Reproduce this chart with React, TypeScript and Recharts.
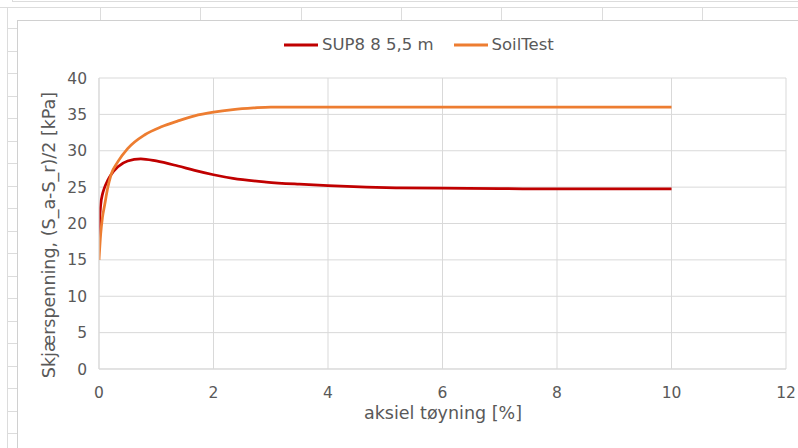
import React from 'react';
import { LineChart, Line, XAxis, YAxis, CartesianGrid, Legend, Label } from 'recharts';

// Strain [%] and half deviator stress [kPa] for each curve
const sup8Strain = [0, 0.01, 0.03, 0.06, 0.09, 0.15, 0.21, 0.33, 0.5, 0.73, 1.0, 1.38, 1.67, 2.0, 2.34, 2.92, 3.5, 4.0, 4.67, 5.25, 6, 7, 8, 9, 10];
const sup8Stress = [17.5, 20.2, 22.6, 24.0, 24.8, 25.9, 26.7, 27.8, 28.6, 28.9, 28.6, 27.9, 27.3, 26.7, 26.2, 25.7, 25.4, 25.2, 25.0, 24.9, 24.85, 24.8, 24.75, 24.75, 24.75];

const soilStrain = [0, 0.03, 0.06, 0.1, 0.15, 0.21, 0.33, 0.5, 0.8, 1.09, 1.38, 1.67, 2.0, 2.34, 2.7, 3.0, 10];
const soilStress = [15.0, 18.6, 20.8, 22.6, 24.8, 26.7, 28.5, 30.3, 32.2, 33.3, 34.1, 34.8, 35.3, 35.65, 35.88, 36.0, 36.0];

const xTicks = [0, 2, 4, 6, 8, 10, 12];
const yTicks = [0, 5, 10, 15, 20, 25, 30, 35, 40];

const seriesNames = ['SUP8 8 5,5 m', 'SoilTest'];
const seriesColors = ['#C00000', '#ED7D31'];

const sup8Data = sup8Strain.map((x, i) => ({ x, y: sup8Stress[i] }));
const soilData = soilStrain.map((x, i) => ({ x, y: soilStress[i] }));

const FONT = '"DejaVu Sans", Verdana, sans-serif';
const TEXT = '#595959';
const GRID = '#d9d9d9';

// Worksheet cell lines around the embedded chart
const SheetBackdrop = () => {
  const line = (s: React.CSSProperties, k: string) => (
    <div key={k} style={{ position: 'absolute', background: '#dcdcdc', ...s }} />
  );
  const cols = [100, 200, 301, 401, 501, 602, 702];
  const rows: number[] = [];
  for (let y = 28; y < 448; y += 22.5) rows.push(Math.round(y));
  return (
    <>
      {line({ left: 13, top: 1, width: 785, height: 1 }, 't1')}
      {line({ left: 12, top: 0, width: 1, height: 2 }, 't0')}
      {line({ left: 0, top: 7, width: 798, height: 1 }, 't2')}
      {line({ left: 7, top: 7, width: 1, height: 441 }, 'l1')}
      {cols.map((x, i) => line({ left: x, top: 7, width: 1, height: 13 }, 'c' + i))}
      {rows.map((y, i) => line({ left: 7, top: y, width: 10, height: 1 }, 'r' + i))}
      {line({ left: 17, top: 20, width: 781, height: 1, background: '#d0d0d0' }, 'bt')}
      {line({ left: 17, top: 20, width: 1, height: 428, background: '#d0d0d0' }, 'bl')}
    </>
  );
};

const LegendContent = () => (
  <div style={{ display: 'flex', alignItems: 'center', fontFamily: FONT, fontSize: 16.5, color: TEXT, lineHeight: '20px' }}>
    {seriesNames.map((n, i) => (
      <div key={n} style={{ display: 'flex', alignItems: 'center', marginRight: i === 0 ? 20 : 0 }}>
        <svg width={35} height={6} style={{ marginRight: 3 }}>
          <line x1={0} y1={3} x2={34} y2={3} stroke={seriesColors[i]} strokeWidth={3} />
        </svg>
        <span>{n}</span>
      </div>
    ))}
  </div>
);

export default function App() {
  return (
    <div style={{ position: 'fixed', left: 0, top: 0, width: 798, height: 448, background: '#fff', overflow: 'hidden' }}>
      <SheetBackdrop />
      <div style={{ position: 'absolute', left: 0, top: 0 }}>
        <LineChart width={798} height={448} margin={{ top: 78, right: 12, bottom: 0, left: 0 }}>
          <CartesianGrid stroke={GRID} strokeWidth={1} />
          <XAxis
            type="number"
            dataKey="x"
            domain={[0, 12]}
            ticks={xTicks}
            allowDataOverflow
            height={79}
            tickLine={false}
            tickSize={0}
            tickMargin={18}
            axisLine={{ stroke: GRID }}
            tick={{ fill: TEXT, fontSize: 15.5, fontFamily: FONT }}
          >
            <Label
              content={() => (
                <text x={443} y={413} textAnchor="middle" dominantBaseline="central" fill={TEXT} fontSize={17.5} fontFamily={FONT}>
                  aksiel tøyning [%]
                </text>
              )}
            />
          </XAxis>
          <YAxis
            type="number"
            domain={[0, 40]}
            ticks={yTicks}
            width={99}
            tickLine={false}
            tickSize={0}
            tickMargin={12}
            axisLine={{ stroke: GRID }}
            tick={{ fill: TEXT, fontSize: 15.5, fontFamily: FONT }}
          >
            <Label
              content={() => (
                <text x={49} y={235} transform="rotate(-90 49 235)" textAnchor="middle" dominantBaseline="central" fill={TEXT} fontSize={17.5} fontFamily={FONT}>
                  Skjærspenning, (S_a-S_r)/2 [kPa]
                </text>
              )}
            />
          </YAxis>
          <Legend layout="horizontal" verticalAlign="middle" align="center" wrapperStyle={{ top: 35, left: 284, width: 400 }} content={<LegendContent />} />
          <Line data={sup8Data} dataKey="y" name={seriesNames[0]} type="monotone" stroke={seriesColors[0]} strokeWidth={2.75} dot={false} isAnimationActive={false} />
          <Line data={soilData} dataKey="y" name={seriesNames[1]} type="monotone" stroke={seriesColors[1]} strokeWidth={2.75} dot={false} isAnimationActive={false} />
        </LineChart>
      </div>
    </div>
  );
}
